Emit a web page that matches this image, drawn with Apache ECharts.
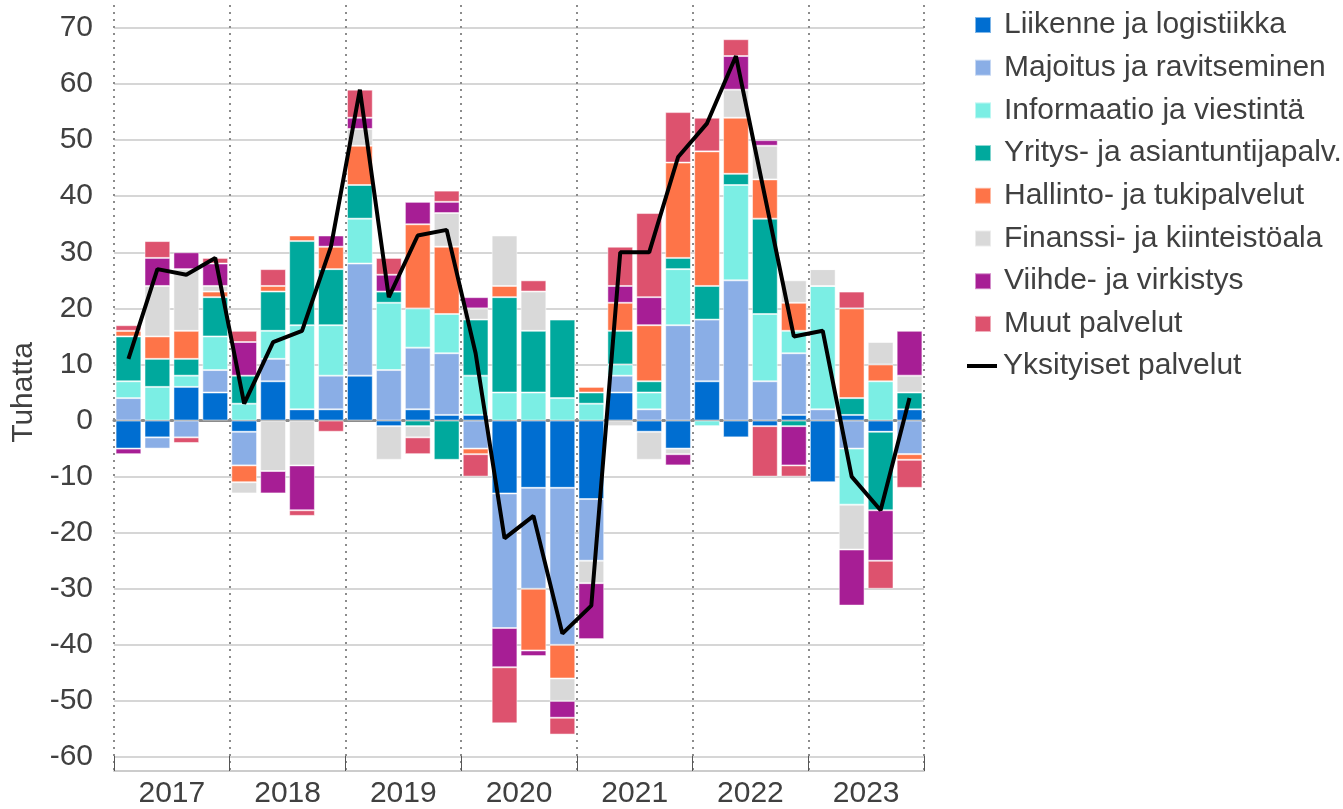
<!DOCTYPE html>
<html>
<head>
<meta charset="utf-8">
<script src="https://cdn.jsdelivr.net/npm/echarts@6/dist/echarts.min.js"></script>
<style>
html, body { margin: 0; padding: 0; background: #fff; }
#chart { width: 1343px; height: 809px; }
</style>
</head>
<body>
<div id="chart"></div>
<script>
// neljännekset 2017-2023
var quarters = ['2017Q1', '2017Q2', '2017Q3', '2017Q4', '2018Q1', '2018Q2', '2018Q3', '2018Q4',
	'2019Q1', '2019Q2', '2019Q3', '2019Q4', '2020Q1', '2020Q2', '2020Q3', '2020Q4',
	'2021Q1', '2021Q2', '2021Q3', '2021Q4', '2022Q1', '2022Q2', '2022Q3', '2022Q4',
	'2023Q1', '2023Q2', '2023Q3', '2023Q4'];
var years = ['2017', '2018', '2019', '2020', '2021', '2022', '2023'];

var liikenne = [-5, -3, 6, 5, -2, 7, 2, 2, 8, -1, 2, 1, 1, -13, -12, -12, -14, 5, -2, -5, 7, -3, -1, 1, -11, 1, -2, 2];
var majoitus = [4, -2, -3, 4, -6, 4, 0, 6, 20, 9, 11, 11, -5, -24, -18, -28, -11, 3, 2, 17, 11, 25, 7, 11, 2, -5, 0, -6];
var informaatio = [3, 6, 2, 6, 3, 5, 15, 9, 8, 12, 7, 7, 7, 5, 5, 4, 3, 2, 3, 10, -1, 17, 12, 4, 22, -10, 7, 0];
var yritys = [8, 5, 3, 7, 5, 7, 15, 10, 6, 2, -1, -7, 10, 17, 11, 14, 2, 6, 2, 2, 6, 2, 17, -1, 0, 3, -14, 3];
var hallinto = [1, 4, 5, 1, -3, 1, 1, 4, 7, 0, 15, 12, -1, 2, -11, -6, 1, 5, 10, 17, 24, 10, 7, 5, 0, 16, 3, -1];
var finanssi = [0, 9, 11, 1, -2, -9, -8, 0, 3, -6, -2, 6, 2, 9, 7, -4, -4, -1, -5, -1, 0, 5, 6, 4, 3, -8, 4, 3];
var viihde = [-1, 5, 3, 4, 6, -4, -8, 2, 2, 3, 4, 2, 2, -7, -1, -3, -10, 3, 5, -2, 0, 6, 1, -7, 0, -10, -9, 8];
var muut = [1, 3, -1, 1, 2, 3, -1, -2, 5, 3, -3, 2, -4, -10, 2, -3, 0, 7, 15, 9, 6, 3, -9, -2, 0, 3, -5, -5];
var yksityiset = [11, 27, 26, 29, 3, 14, 16, 31, 59, 22, 33, 34, 12, -21, -17, -38, -33, 30, 30, 47, 53, 65, 40, 15, 16, -10, -16, 4];

var barNames = ['Liikenne ja logistiikka', 'Majoitus ja ravitseminen', 'Informaatio ja viestintä',
	'Yritys- ja asiantuntijapalv.', 'Hallinto- ja tukipalvelut', 'Finanssi- ja kiinteistöala',
	'Viihde- ja virkistys', 'Muut palvelut'];
var barData = [liikenne, majoitus, informaatio, yritys, hallinto, finanssi, viihde, muut];
var barColors = ['#006ed1', '#8aaee6', '#7beee4', '#00a99d', '#fe7448', '#d9d9d9', '#a71e95', '#dd526e'];

var fontName = '"Liberation Sans", Arial, sans-serif';
var textColor = '#404040';

var dom = document.getElementById('chart');
var myChart = echarts.init(dom);

var series = [];
for (var i = 0; i < barNames.length; i++) {
	series.push({
		name: barNames[i],
		type: 'bar',
		stack: 'total',
		barCategoryGap: '11%',
		itemStyle: {
			color: barColors[i],
			borderColor: 'rgba(255,255,255,0.5)',
			borderWidth: 1
		},
		data: barData[i]
	});
}
series.push({
	name: 'Yksityiset palvelut',
	type: 'line',
	symbol: 'none',
	z: 5,
	lineStyle: { color: '#000', width: 4 },
	itemStyle: { color: '#000' },
	data: yksityiset
});

var option = {
	animation: false,
	textStyle: { fontFamily: fontName },
	grid: [
		{ left: 114, right: 419, top: 28, bottom: 52 },
		{ left: 114, right: 419, top: 5, bottom: 34 }
	],
	legend: [
		{
			data: barNames,
			orient: 'vertical',
			left: 969,
			top: 5,
			itemWidth: 16,
			itemHeight: 16,
			itemGap: 12.7,
			icon: 'rect',
			textStyle: { fontSize: 30, lineHeight: 30, color: textColor, fontFamily: fontName, padding: [0, 0, 0, 8] }
		},
		{
			data: ['Yksityiset palvelut'],
			orient: 'vertical',
			left: 962,
			top: 346,
			itemWidth: 30,
			itemHeight: 4,
			icon: 'rect',
			textStyle: { fontSize: 30, lineHeight: 30, color: textColor, fontFamily: fontName, padding: [0, 0, 0, 1] }
		}
	],
	xAxis: [
		{
			type: 'category',
			gridIndex: 0,
			data: quarters,
			axisLine: { show: true, onZero: true, lineStyle: { color: '#8c8c8c', width: 3 } },
			axisTick: { show: false },
			axisLabel: { show: false },
			splitLine: { show: false }
		},
		{
			type: 'category',
			gridIndex: 1,
			data: years,
			boundaryGap: true,
			axisLine: { show: true, lineStyle: { color: '#cccccc', width: 2 } },
			axisTick: { show: true, inside: true, length: 15, lineStyle: { color: '#555', width: 1 } },
			axisLabel: { fontSize: 30, color: textColor, margin: 8, fontFamily: fontName },
			splitLine: { show: true, lineStyle: { color: '#8c8c8c', width: 2, type: [2, 5] } }
		}
	],
	yAxis: [
		{
			type: 'value',
			gridIndex: 0,
			min: -60,
			max: 70,
			interval: 10,
			name: 'Tuhatta',
			nameLocation: 'middle',
			nameGap: 71,
			nameTextStyle: { fontSize: 30, color: textColor, fontFamily: fontName },
			axisLine: { show: false },
			axisTick: { show: false },
			axisLabel: { fontSize: 30, color: textColor, margin: 21, fontFamily: fontName },
			splitLine: { show: true, lineStyle: { color: '#c8c8c8', width: 1.5 } }
		},
		{
			type: 'value',
			gridIndex: 1,
			show: false,
			splitLine: { show: false }
		}
	],
	series: series
};

if (option && typeof option === "object") {
	myChart.setOption(option, true);
}
</script>
</body>
</html>
